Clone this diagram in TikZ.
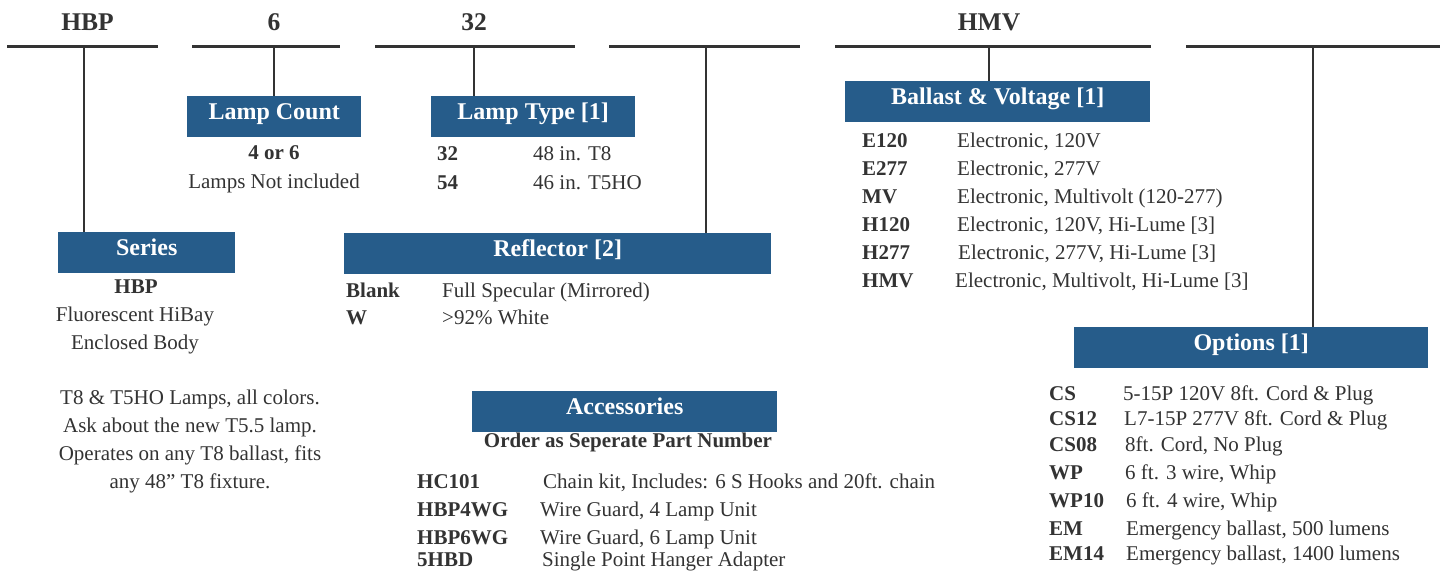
\documentclass[tikz,border=0pt]{standalone}
\usepackage{fontspec}
\setmainfont{Liberation Serif}
\definecolor{hdblue}{RGB}{38,92,138}
\definecolor{ink}{RGB}{51,51,51}
\begin{document}
\begin{tikzpicture}[x=1pt,y=-1pt,
  bar/.style={draw=ink,line width=3pt},
  stem/.style={draw=ink,line width=2.5pt},
  head/.style={fill=hdblue,text=white,inner sep=0pt,anchor=north west,
    text height=23pt,text depth=18pt,font=\bfseries\fontsize{24}{28}\selectfont},
  code/.style={anchor=base west,inner sep=0pt,text=ink,font=\bfseries\fontsize{21}{25}\selectfont},
  desc/.style={anchor=base west,inner sep=0pt,text=ink,font=\fontsize{21}{25}\selectfont},
  mid/.style={anchor=base,inner sep=0pt,text=ink,font=\fontsize{21}{25}\selectfont},
  part/.style={anchor=base,inner sep=0pt,text=ink,font=\bfseries\fontsize{25.5}{30}\selectfont}]
\useasboundingbox (0,0) rectangle (1440,571);
\node[part] (pHBP) at (87.5,30) {HBP};
\node[part] (pcount) at (274,30) {6};
\node[part] (ptype) at (474,30) {32};
\node[part] (pHMV) at (989,30) {HMV};
\draw[bar] (7,46.5)--(158,46.5);
\draw[bar] (192,46.5)--(340,46.5);
\draw[bar] (375,46.5)--(575,46.5);
\draw[bar] (609,46.5)--(800,46.5);
\draw[bar] (835,46.5)--(1151,46.5);
\draw[bar] (1186,46.5)--(1440,46.5);
\coordinate (cseries) at (84,46.5);
\coordinate (ccount) at (274,46.5);
\coordinate (ctype) at (474,46.5);
\coordinate (crefl) at (706,46.5);
\coordinate (cballast) at (989,46.5);
\coordinate (coptions) at (1313,46.5);
\node[head,minimum width=174pt] (lampcount) at (187,96) {Lamp Count};
\node[head,minimum width=204pt] (lamptype) at (431,96) {Lamp Type [1]};
\node[head,minimum width=177pt] (series) at (58,232) {Series};
\node[head,minimum width=427pt] (reflector) at (344,233) {Reflector [2]};
\node[head,minimum width=305pt] (ballast) at (845,81) {Ballast \& Voltage [1]};
\node[head,minimum width=354pt] (options) at (1074,327) {Options [1]};
\node[head,minimum width=305pt] (accessories) at (472,391) {Accessories};
\draw[stem] (cseries)--(cseries |- series.north);
\draw[stem] (ccount)--(ccount |- lampcount.north);
\draw[stem] (ctype)--(ctype |- lamptype.north);
\draw[stem] (crefl)--(crefl |- reflector.north);
\draw[stem] (cballast)--(cballast |- ballast.north);
\draw[stem] (coptions)--(coptions |- options.north);
% lamp count
\node[mid] (count46) at (274,159) {\bfseries 4 or 6};
\node[mid] (countnote) at (274,188) {Lamps Not included};
% lamp type
\node[code] (t32) at (437,160) {32};
\node[desc] (t32d) at (533,160) {48 in. T8};
\node[code] (t54) at (437,189) {54};
\node[desc] (t54d) at (533,189) {46 in. T5HO};
% series
\node[mid] (sHBP) at (136,293) {\bfseries HBP};
\node[mid] (s1) at (135,321) {Fluorescent HiBay};
\node[mid] (s2) at (135,349) {Enclosed Body};
\node[mid] (n1) at (190,404) {T8 \& T5HO Lamps, all colors.};
\node[mid] (n2) at (190,432) {Ask about the new T5.5 lamp.};
\node[mid] (n3) at (190,460) {Operates on any T8 ballast, fits};
\node[mid] (n4) at (190,488) {any 48” T8 fixture.};
% reflector
\node[code] (rblank) at (346,297) {Blank};
\node[desc] (rblankd) at (442,297) {Full Specular (Mirrored)};
\node[code] (rW) at (346,324) {W};
\node[desc] (rWd) at (442,324) {>92\% White};
% ballast and voltage
\node[code] (bE120) at (862,147) {E120};
\node[desc] (bE120d) at (957,147) {Electronic, 120V};
\node[code] (bE277) at (862,175) {E277};
\node[desc] (bE277d) at (957,175) {Electronic, 277V};
\node[code] (bMV) at (862,203) {MV};
\node[desc] (bMVd) at (957,203) {Electronic, Multivolt (120-277)};
\node[code] (bH120) at (862,231) {H120};
\node[desc] (bH120d) at (957,231) {Electronic, 120V, Hi-Lume [3]};
\node[code] (bH277) at (862,259) {H277};
\node[desc] (bH277d) at (958,259) {Electronic, 277V, Hi-Lume [3]};
\node[code] (bHMV) at (862,287) {HMV};
\node[desc] (bHMVd) at (955,287) {Electronic, Multivolt, Hi-Lume [3]};
% options
\node[code] (oCS) at (1049,400) {CS};
\node[desc] (oCSd) at (1123,400) {5-15P 120V 8ft. Cord \& Plug};
\node[code] (oCS12) at (1049,425) {CS12};
\node[desc] (oCS12d) at (1124,425) {L7-15P 277V 8ft. Cord \& Plug};
\node[code] (oCS08) at (1049,451) {CS08};
\node[desc] (oCS08d) at (1125,451) {8ft. Cord, No Plug};
\node[code] (oWP) at (1049,479) {WP};
\node[desc] (oWPd) at (1125,479) {6 ft. 3 wire, Whip};
\node[code] (oWP10) at (1049,507) {WP10};
\node[desc] (oWP10d) at (1126,507) {6 ft. 4 wire, Whip};
\node[code] (oEM) at (1049,535) {EM};
\node[desc] (oEMd) at (1126,535) {Emergency ballast, 500 lumens};
\node[code] (oEM14) at (1049,560) {EM14};
\node[desc] (oEM14d) at (1126,560) {Emergency ballast, 1400 lumens};
% accessories
\node[mid] (aorder) at (628,447) {\bfseries Order as Seperate Part Number};
\node[code] (aHC101) at (417,488) {HC101};
\node[desc] (aHC101d) at (543,488) {Chain kit, Includes: 6 S Hooks and 20ft. chain};
\node[code] (a4WG) at (417,516) {HBP4WG};
\node[desc] (a4WGd) at (540,516) {Wire Guard, 4 Lamp Unit};
\node[code] (a6WG) at (417,544) {HBP6WG};
\node[desc] (a6WGd) at (540,544) {Wire Guard, 6 Lamp Unit};
\node[code] (a5HBD) at (417,566) {5HBD};
\node[desc] (a5HBDd) at (542,566) {Single Point Hanger Adapter};
\end{tikzpicture}
\end{document}
